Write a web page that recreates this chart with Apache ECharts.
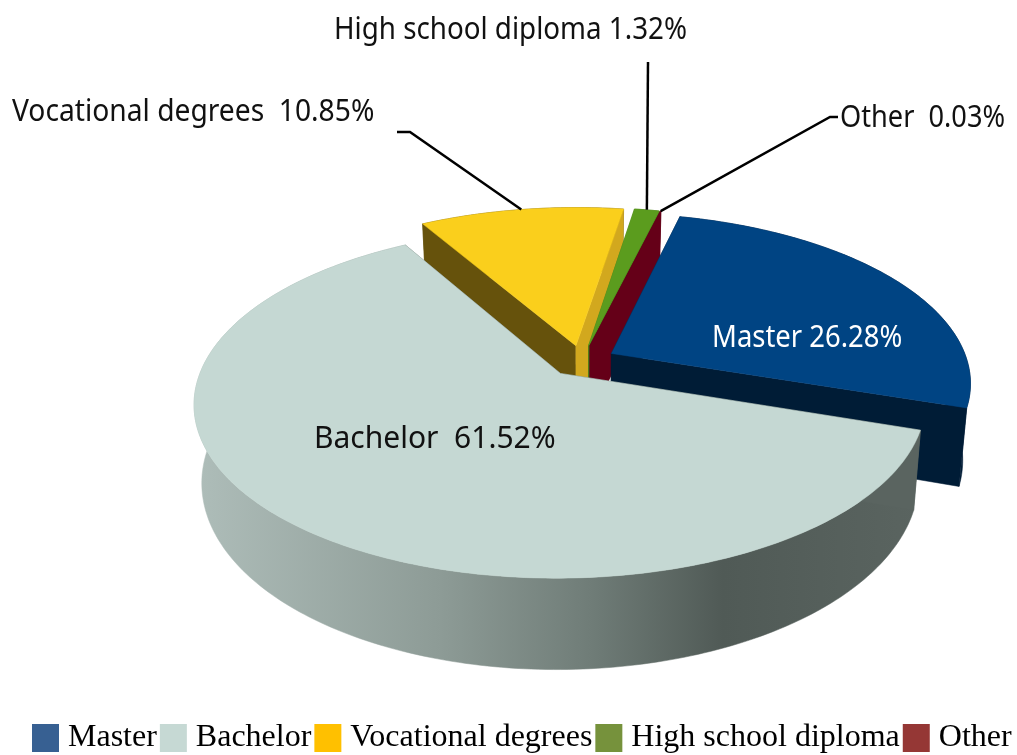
<!DOCTYPE html>
<html>
<head>
<meta charset="utf-8">
<title>Education level</title>
<style>
  html, body { margin: 0; padding: 0; background: #fff; }
  #chart { width: 1017px; height: 755px; }
</style>
<script src="https://cdn.jsdelivr.net/npm/echarts@6/dist/echarts.min.js"></script>
</head>
<body>
<div id="chart"></div>
<script>
// data
const names = ['Master', 'Bachelor', 'Vocational degrees', 'High school diploma', 'Other']
const shares = [26.28, 61.52, 10.85, 1.32, 0.03]

// colours
const legendColors = ['#376092', '#c6d9d4', '#ffc000', '#76923c', '#953735']
const topColors = ['#004483', '#c5d8d3', '#facf1c', '#5b9c1e', '#650018']
const startWallColors = ['#001c36', '#5a6460', '#66520c', '#4a7a18', '#650018']
const endWallColors = ['#001c36', '#5a6460', '#d2a81e', '#4a7a18', '#650018']
const labelColors = ['#fff', '#111', '#111', '#111', '#111']

// back slices are painted first, the front one last
const drawOrder = [2, 3, 4, 0, 1]

// label layout, elbows run from the slice rim to the text
const labelSeparators = [' ', '  ', '  ', ' ', '  ']
const labelPositions = [[712, 338], [314, 439], [12, 112], [334, 30], [840, 118]]
const labelStretch = [0.915, 1, 0.94, 0.925, 0.906]
const leaderElbows = [
  null,
  null,
  [[410, 132], [397, 132]],
  [[648, 62]],
  [[830, 117], [838, 117]]
]

// projection of the tilted pie
const centerX = 582
const centerY = 361
const scaleX = 356
const scaleY = 166
const perspective = 0.167
const depth = 75
const dropShrink = 0.98
const explode = 0.095
const firstAngle = 13.8
const arcStep = 1

const project = (u, v, drop) => {
  const w = 1 - perspective * v
  const sx = drop ? scaleX * dropShrink : scaleX
  return [centerX + sx * u / w, centerY + (scaleY * v + (drop ? depth : 0)) / w]
}

const total = shares.reduce((sum, v) => sum + v, 0)

const sliceGeometry = (index) => {
  const before = shares.slice(0, index).reduce((sum, v) => sum + v, 0)
  const start = firstAngle + before / total * 360
  const end = start + shares[index] / total * 360
  const mid = (start + end) / 2 * Math.PI / 180
  const offU = explode * Math.sin(mid)
  const offV = -explode * Math.cos(mid)

  const angles = [start]
  for (let a = start + arcStep; a < end; a += arcStep) angles.push(a)
  angles.push(end)

  const rim = (drop) => angles.map((a) => {
    const rad = a * Math.PI / 180
    return project(offU + Math.sin(rad), offV - Math.cos(rad), drop)
  })
  return {
    apexTop: project(offU, offV, false),
    apexBottom: project(offU, offV, true),
    rimTop: rim(false),
    rimBottom: rim(true),
    anchor: project(offU + Math.sin(mid), offV - Math.cos(mid), false)
  }
}

const wallFill = (index) => {
  if (index === 1) {
    return new echarts.graphic.LinearGradient(195, 0, 918, 0, [
      { offset: 0, color: '#aebdb9' },
      { offset: 0.34, color: '#8d9b96' },
      { offset: 0.55, color: '#6f7c77' },
      { offset: 0.73, color: '#505a56' },
      { offset: 1, color: '#5a6460' }
    ], true)
  }
  return startWallColors[index] === endWallColors[index] ? endWallColors[index] : '#66520c'
}

const polygon = (points, fill) => ({
  type: 'polygon',
  shape: { points },
  style: { fill, stroke: fill, lineWidth: 0.5 }
})

const renderSlice = (index) => () => {
  const g = sliceGeometry(index)
  const last = g.rimTop.length - 1
  const children = [
    polygon(g.rimTop.concat(g.rimBottom.slice().reverse()), wallFill(index)),
    polygon([g.apexTop, g.rimTop[0], g.rimBottom[0], g.apexBottom], startWallColors[index]),
    polygon([g.apexTop, g.rimTop[last], g.rimBottom[last], g.apexBottom], endWallColors[index]),
    polygon([g.apexTop].concat(g.rimTop), topColors[index])
  ]

  if (leaderElbows[index]) {
    children.push({
      type: 'polyline',
      shape: { points: [g.anchor].concat(leaderElbows[index]) },
      style: { stroke: '#000', lineWidth: 2.5, fill: null }
    })
  }

  children.push({
    type: 'text',
    x: labelPositions[index][0],
    y: labelPositions[index][1],
    scaleX: labelStretch[index],
    style: {
      text: names[index] + labelSeparators[index] + shares[index].toFixed(2) + '%',
      fill: labelColors[index],
      font: '30px "Noto Sans"',
      textAlign: 'left',
      textVerticalAlign: 'middle'
    }
  })
  return { type: 'group', children }
}

const chart = echarts.init(document.getElementById('chart'))

chart.setOption({
  animation: false,
  legend: {
    data: names,
    left: 32,
    bottom: 1,
    padding: 0,
    itemWidth: 27,
    itemHeight: 28,
    itemGap: 3,
    icon: 'rect',
    textStyle: {
      fontFamily: '"Liberation Serif"',
      fontSize: 32,
      color: '#000',
      padding: [5, 0, 0, 4]
    }
  },
  series: drawOrder.map((index) => ({
    type: 'custom',
    name: names[index],
    coordinateSystem: 'none',
    itemStyle: { color: legendColors[index] },
    data: [shares[index]],
    renderItem: renderSlice(index)
  }))
})
</script>
</body>
</html>
